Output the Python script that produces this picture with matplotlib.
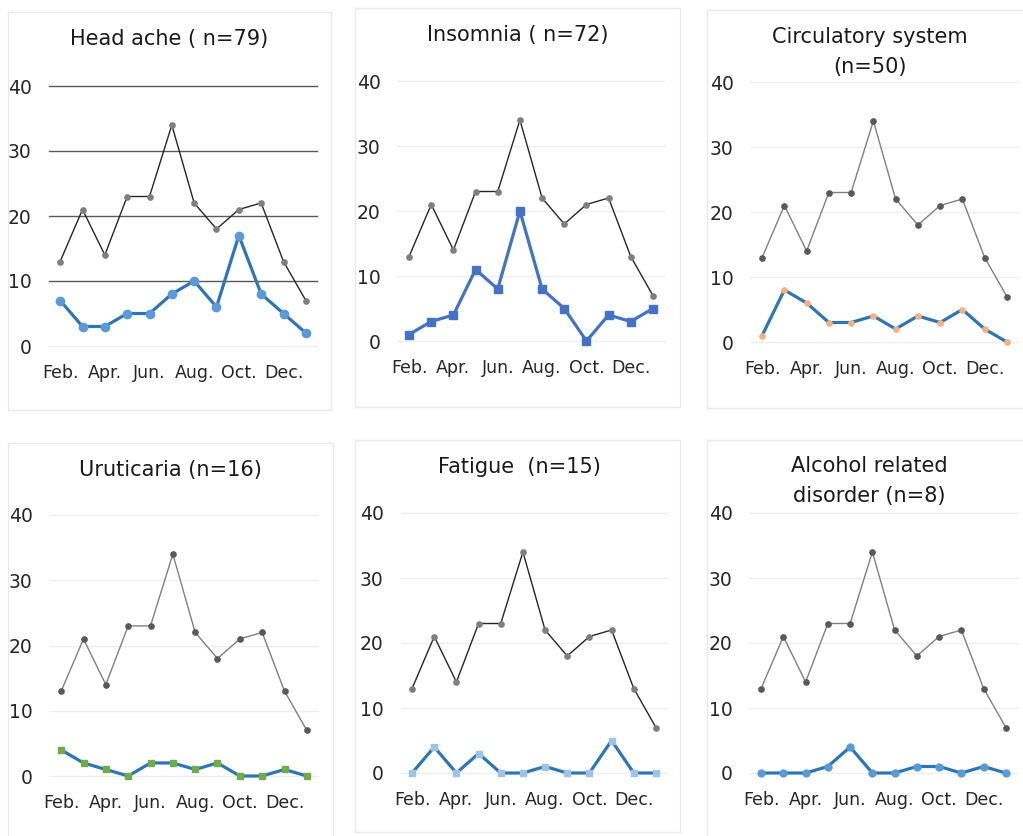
import matplotlib
matplotlib.use("Agg")
import matplotlib.pyplot as plt
from matplotlib.patches import Rectangle

plt.rcParams['font.family'] = ['DejaVu Sans']

# Months of the study period (Feb. through Jan.)
months = ["Feb.", "Mar.", "Apr.", "May", "Jun.", "Jul.", "Aug.",
          "Sep.", "Oct.", "Nov.", "Dec.", "Jan."]

# Total cases per month (shown in every panel)
total = [13, 21, 14, 23, 23, 34, 22, 18, 21, 22, 13, 7]

# Cases per month by complaint
headache = [7, 3, 3, 5, 5, 8, 10, 6, 17, 8, 5, 2]
insomnia = [1, 3, 4, 11, 8, 20, 8, 5, 0, 4, 3, 5]
circulatory = [1, 8, 6, 3, 3, 4, 2, 4, 3, 5, 2, 0]
urticaria = [4, 2, 1, 0, 2, 2, 1, 2, 0, 0, 1, 0]
fatigue = [0, 4, 0, 3, 0, 0, 1, 0, 0, 5, 0, 0]
alcohol = [0, 0, 0, 1, 4, 0, 0, 1, 1, 0, 1, 0]

titles = ["Head ache ( n=79)", "Insomnia ( n=72)", "Circulatory system\n(n=50)",
          "Uruticaria (n=16)", "Fatigue  (n=15)", "Alcohol related\ndisorder (n=8)"]
series = [headache, insomnia, circulatory, urticaria, fatigue, alcohol]
yticks = [0, 10, 20, 30, 40]

W, H = 1023, 836
fig = plt.figure(figsize=(W / 100, H / 100), dpi=100)

# pixel layout: (box x0, box y0, box x1, box y1), (axes left, top, right, bottom), title (x, y)
layout = [
    ((8, 12, 331, 410), (49, 86, 317, 346), (169, 39)),
    ((355, 8, 680, 407), (398, 81, 664, 341), (518, 35)),
    ((707, 10, 1030, 408), (751, 82, 1018, 342), (870, 52)),
    ((8, 443, 333, 840), (50, 515, 318, 776), (170, 470)),
    ((355, 440, 680, 832), (401, 513, 667, 773), (519, 467)),
    ((707, 440, 1030, 840), (750, 513, 1017, 773), (869, 481)),
]

styles = [
    dict(tot_line="#262626", tot_mk="#7f7f7f", line="#2E75B6", mk="#5B9BD5", marker="o", ms=6),
    dict(tot_line="#262626", tot_mk="#7f7f7f", line="#4472C4", mk="#4472C4", marker="s", ms=5.5),
    dict(tot_line="#808080", tot_mk="#595959", line="#2E75B6", mk="#F4B183", marker="o", ms=3.8),
    dict(tot_line="#808080", tot_mk="#595959", line="#2E75B6", mk="#70AD47", marker="s", ms=5),
    dict(tot_line="#262626", tot_mk="#7f7f7f", line="#2E75B6", mk="#9DC3E6", marker="s", ms=5),
    dict(tot_line="#808080", tot_mk="#595959", line="#2E75B6", mk="#5B9BD5", marker="o", ms=5),
]

x = list(range(len(months)))

for i, (box, ax_px, tpos) in enumerate(layout):
    bx0, by0, bx1, by1 = box
    fig.patches.append(Rectangle((bx0 / W, 1 - by1 / H), (bx1 - bx0) / W, (by1 - by0) / H,
                                 transform=fig.transFigure, fill=False,
                                 edgecolor="#e9e9e9", linewidth=1.0))
    l, t, r, b = ax_px
    ax = fig.add_axes([l / W, 1 - b / H, (r - l) / W, (b - t) / H])
    st = styles[i]

    # horizontal gridlines
    for yv in yticks:
        if i == 0 and yv > 0:
            ax.axhline(yv, color="#595959", lw=1.0, zorder=0)
        else:
            ax.axhline(yv, color="#eeeeee", lw=1.0, zorder=0)

    ax.plot(x, total, color=st["tot_line"], lw=1.0, marker="o", ms=3.8,
            markerfacecolor=st["tot_mk"], markeredgecolor=st["tot_mk"], zorder=3)
    ax.plot(x, series[i], color=st["line"], lw=2.3, marker=st["marker"], ms=st["ms"],
            markerfacecolor=st["mk"], markeredgecolor=st["mk"], zorder=4)

    ax.set_xlim(-0.5, len(months) - 0.5)
    ax.set_ylim(0, 40)
    ax.set_yticks(yticks)
    ax.set_xticks(x[::2])
    ax.set_xticklabels(months[::2])
    ax.tick_params(axis="y", length=0, labelsize=13.5, colors="#262626", pad=12.5)
    ax.tick_params(axis="x", length=0, labelsize=12.5, colors="#262626", pad=13)
    for s in ax.spines.values():
        s.set_visible(False)
    ax.set_facecolor("none")
    for art in ax.lines:
        art.set_clip_on(False)

    fig.text(tpos[0] / W, 1 - tpos[1] / H, titles[i], ha="center", va="center",
             fontsize=15, color="#1a1a1a", linespacing=1.65)

fig.savefig("out.png", dpi=100, facecolor="white")
